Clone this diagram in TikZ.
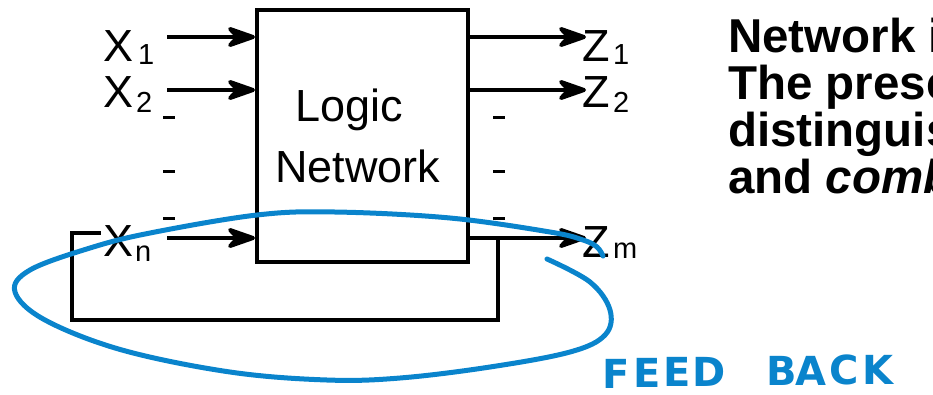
\documentclass[tikz,border=0pt]{standalone}
\usepackage{fontspec}
\setmainfont{Liberation Sans}
\newfontfamily\handfont{DejaVu Sans}
\usetikzlibrary{arrows.meta}
\definecolor{fbblue}{RGB}{10,132,204}
\tikzset{
  wire/.style={line width=4pt},
  sig/.style={wire, -{Stealth[length=36pt,width=25pt,inset=12pt,round]}},
  lab/.style={inner sep=0pt, anchor=base west, font=\fontsize{45}{45}\selectfont},
  sublab/.style={inner sep=0pt, anchor=base west, font=\fontsize{29}{29}\selectfont},
  dots/.style={line width=3pt},
  note/.style={inner sep=0pt, anchor=base west, font=\bfseries\fontsize{47.5}{47.5}\selectfont},
  hand/.style={inner sep=0pt, anchor=base west, text=fbblue, font=\handfont\bfseries\fontsize{40}{40}\selectfont},
  loop/.style={line width=5pt, draw=fbblue, line cap=round}
}
\begin{document}
\begin{tikzpicture}[x=1pt,y=-1pt]
\useasboundingbox (0,0) rectangle (933,394);
\clip (0,0) rectangle (933,394);
% box
\node[draw, wire, minimum width=211pt, minimum height=252pt, inner sep=0pt] (box) at (362.5,136) {};
\node[lab] (t1) at (295,121) {Logic};
\node[lab] (t2) at (275,182) {Network};
% input labels
\node[lab] (x1) at (103,61) {X};
\node[sublab] (x1s) at (138,64) {1};
\node[lab] (x2) at (103,107) {X};
\node[sublab] (x2s) at (136,112) {2};
\node[lab] (xn) at (103,256) {X};
\node[sublab] (xns) at (135,261) {n};
% output labels
\node[lab] (z1) at (582,61) {Z};
\node[sublab] (z1s) at (613,64) {1};
\node[lab] (z2) at (582,107) {Z};
\node[sublab] (z2s) at (613,112) {2};
\node[lab] (zm) at (582,257) {Z};
\node[sublab] (zms) at (613,258) {m};
% input wires
\coordinate (a1) at (167,37);
\coordinate (a2) at (167,90);
\coordinate (an) at (167,238);
\draw[sig] (a1) -- (a1 -| box.west);
\draw[sig] (a2) -- (a2 -| box.west);
\draw[sig] (an) -- (an -| box.west);
% output wires
\coordinate (b1) at (586,37);
\coordinate (b2) at (586,90);
\coordinate (bm) at (586,238);
\draw[sig] (b1 -| box.east) -- (b1);
\draw[sig] (b2 -| box.east) -- (b2);
\draw[sig] (bm -| box.east) -- (bm);
% dashes
\foreach \y in {117,171,218} {
  \draw[dots] (163,\y) -- (175,\y);
  \draw[dots] (493,\y) -- (505,\y);
}
% feedback path
\coordinate (f0) at (498,238);
\coordinate (f1) at (498,320);
\coordinate (f2) at (72,320);
\coordinate (f3) at (72,233);
\coordinate (f4) at (101,233);
\draw[wire, line join=miter] (f0) -- (f1) -- (f2) -- (f3) -- (f4);
% blue hand-drawn loop
\draw[loop] plot[smooth, tension=0.6] coordinates {
  (547,259) (590,282) (610,310) (605,335) (570,352) (490,367) (400,378) (327,380)
  (230,372) (122,350) (45,320) (15,292) (30,270) (90,248) (150,233) (257,215)
  (335,212) (450,218) (550,232) (583,240) (597,247) (603,256)};
\node[hand] (h1) at (602,388) {F};
\node[hand] (h2) at (633,387) {E};
\node[hand] (h3) at (663,386) {E};
\node[hand] (h4) at (692,386) {D};
\node[hand] (h5) at (766,385) {B};
\node[hand] (h6) at (795,385) {A};
\node[hand] (h7) at (829,384) {C};
\node[hand] (h8) at (862,384) {K};
% right text
\node[note] (n1) at (728,52) {Network is};
\node[note] (n2) at (728,99) {The presence of};
\node[note] (n3) at (728,146) {distinguishes};
\node[note] (n4) at (728,193) {and \textit{combinational}};
\end{tikzpicture}
\end{document}
